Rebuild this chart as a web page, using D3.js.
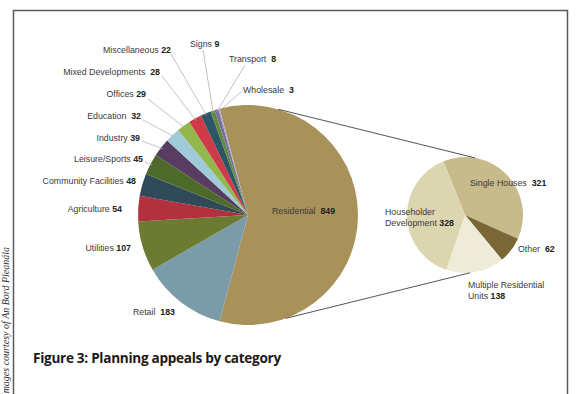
<!DOCTYPE html>
<html>
<head>
<meta charset="utf-8">
<script src="https://cdn.jsdelivr.net/npm/d3@7/dist/d3.min.js"></script>
<style>
  html, body { margin: 0; padding: 0; background: #fff; }
  svg { display: block; }
  .lbl { font-family: "Liberation Sans", Arial, sans-serif; font-size: 8.8px; fill: #3a3a3a; }
  .lbl .num { font-weight: bold; fill: #222; }
</style>
</head>
<body>
<svg id="chart" width="576" height="394"></svg>
<script>
// Planning appeals by category (main pie) and the split of Residential (secondary pie)
const categories = ["Residential", "Retail", "Utilities", "Agriculture", "Community Facilities",
  "Leisure/Sports", "Industry", "Education", "Offices", "Mixed Developments",
  "Miscellaneous", "Signs", "Transport", "Wholesale"];
const values = [849, 183, 107, 54, 48, 45, 39, 32, 29, 28, 22, 9, 8, 3];
const colors = ["#a8925a", "#7b9ba8", "#6c7b32", "#b3303f", "#2f4a58", "#4e6a2a", "#583c62",
  "#9fcbd9", "#93b74c", "#cf3a48", "#2e5565", "#5e8a3c", "#7a6f96", "#a9a8c8"];

const subCategories = ["Single Houses", "Other", "Multiple Residential Units", "Householder Development"];
const subValues = [321, 62, 138, 328];
const subColors = ["#c7bb8c", "#7b6636", "#eeebd8", "#dcd6b0"];

// label layout: [x, y, anchor, leaderX, leaderY]
const labelLayout = {
  "Residential": [272, 214, "start"],
  "Retail": [175, 315, "end"],
  "Utilities": [131, 251, "end"],
  "Agriculture": [122, 212, "end"],
  "Community Facilities": [136, 184, "end"],
  "Leisure/Sports": [143, 162, "end", 145, 162],
  "Industry": [140, 141, "end", 142, 141],
  "Education": [141, 119, "end", 143, 120],
  "Offices": [146, 97, "end", 148, 99],
  "Mixed Developments": [160, 75, "end", 162, 76],
  "Miscellaneous": [171, 53, "end", 171, 54],
  "Signs": [190, 47, "start", 203, 50],
  "Transport": [229, 62, "start", 245, 65],
  "Wholesale": [243, 93, "start", 241, 92]
};
const subLabelLayout = {
  "Single Houses": [470, 186, ["Single Houses  "]],
  "Other": [518, 252, ["Other  "]],
  "Multiple Residential Units": [468, 288, ["Multiple Residential", "Units "]],
  "Householder Development": [385, 215, ["Householder", "Development "]]
};
const gaps = { "Residential": "  ", "Retail": "  ", "Education": "  ", "Mixed Developments": "  ",
  "Transport": "  ", "Wholesale": "  " };

const svg = d3.select("#chart");
const deg = Math.PI / 180;

// frame
svg.append("path")
  .attr("d", "M13.5,394 V10.5 H567.5 V394")
  .attr("fill", "none").attr("stroke", "#5a5a5a").attr("stroke-width", 1.5);

// credit running up the left margin
svg.append("text")
  .attr("transform", "translate(9,247) rotate(-90)")
  .attr("text-anchor", "end")
  .attr("font-family", "Liberation Serif, Times New Roman, serif")
  .attr("font-style", "italic").attr("font-size", 10).attr("fill", "#333")
  .text("Images courtesy of An Bord Pleanála");

// main pie
const cx = 248, cy = 215, R = 110;
const total = d3.sum(values);
const startMain = Math.PI / 2 - (values[0] / total) * Math.PI;
const pie = d3.pie().sort(null).startAngle(startMain).endAngle(startMain + 2 * Math.PI);
const arcs = pie(values);
const arc = d3.arc().innerRadius(0).outerRadius(R);
const edge = d3.arc().innerRadius(R - 2).outerRadius(R - 2);

const gMain = svg.append("g").attr("transform", `translate(${cx},${cy})`);
gMain.selectAll("path").data(arcs).join("path")
  .attr("d", arc)
  .attr("fill", (d, i) => colors[i]);

// secondary pie
const sx = 465, sy = 215, r = 58;
const startSub = -22 * deg;
const subPie = d3.pie().sort(null).startAngle(startSub).endAngle(startSub + 2 * Math.PI);
const subArcs = subPie(subValues);
const subArc = d3.arc().innerRadius(0).outerRadius(r);
const gSub = svg.append("g").attr("transform", `translate(${sx},${sy})`);
gSub.selectAll("path").data(subArcs).join("path")
  .attr("d", subArc)
  .attr("fill", (d, i) => subColors[i]);

// connector lines between the Residential slice and the breakdown pie
const pt = (x0, y0, rad, a) => [x0 + rad * Math.sin(a), y0 - rad * Math.cos(a)];
const conn = [[pt(cx, cy, R, 16 * deg), pt(sx, sy, r, 10 * deg)],
              [pt(cx, cy, R, 160 * deg), pt(sx, sy, r, 175 * deg)]];
svg.selectAll("line.conn").data(conn).join("line")
  .attr("class", "conn")
  .attr("x1", d => d[0][0]).attr("y1", d => d[0][1])
  .attr("x2", d => d[1][0]).attr("y2", d => d[1][1])
  .attr("stroke", "#555").attr("stroke-width", 1);

// leader lines for the small slices
const leaders = arcs.map((d, i) => ({ d, lay: labelLayout[categories[i]] })).filter(o => o.lay.length > 3);
svg.selectAll("line.leader").data(leaders).join("line")
  .attr("class", "leader")
  .attr("x1", o => o.lay[3]).attr("y1", o => o.lay[4])
  .attr("x2", o => cx + edge.centroid(o.d)[0]).attr("y2", o => cy + edge.centroid(o.d)[1])
  .attr("stroke", "#b4b4b4").attr("stroke-width", 0.8);

// main pie labels
categories.forEach((c, i) => {
  const [x, y, anchor] = labelLayout[c];
  const t = svg.append("text").attr("class", "lbl")
    .attr("x", x).attr("y", y).attr("text-anchor", anchor)
    .attr("xml:space", "preserve");
  t.append("tspan").text(c + (gaps[c] || " "));
  t.append("tspan").attr("class", "num").text(values[i]);
});

// secondary pie labels
subCategories.forEach((c, i) => {
  const [x, y, lines] = subLabelLayout[c];
  const t = svg.append("text").attr("class", "lbl").attr("xml:space", "preserve");
  lines.forEach((ln, k) => {
    t.append("tspan").attr("x", x).attr("y", y + k * 11).text(ln);
    if (k === lines.length - 1) t.append("tspan").attr("class", "num").text(subValues[i]);
  });
});

// caption
svg.append("text")
  .attr("x", 33).attr("y", 363)
  .attr("font-family", "Open Sans, Noto Sans, sans-serif")
  .attr("font-weight", "bold").attr("font-size", 13.6).attr("fill", "#1a1a1a")
  .attr("letter-spacing", -0.3)
  .text("Figure 3: Planning appeals by category");
</script>
</body>
</html>
